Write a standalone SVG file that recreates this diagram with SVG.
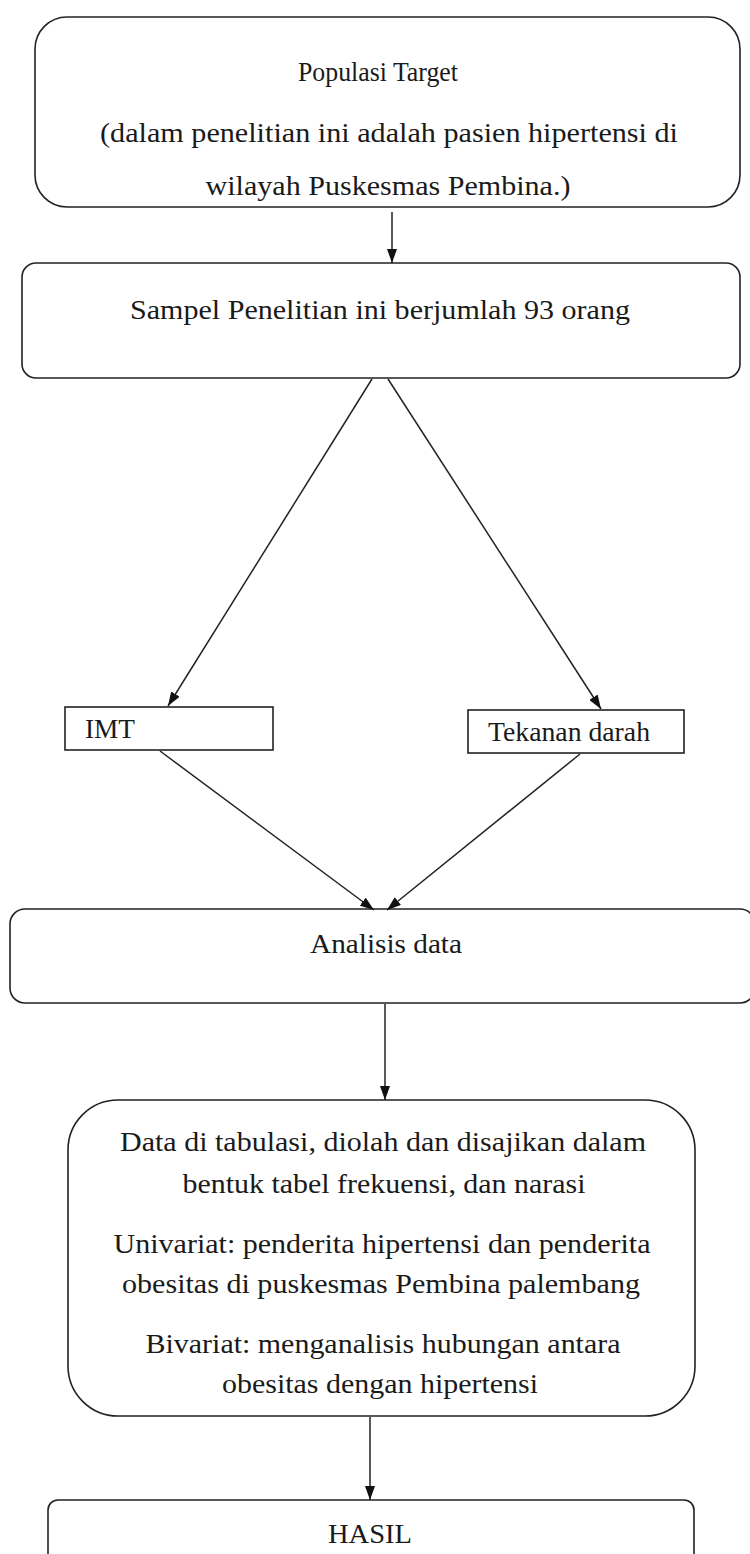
<svg xmlns="http://www.w3.org/2000/svg" width="750" height="1554" viewBox="0 0 750 1554">
<style>
.box{fill:#fff;stroke:#222;stroke-width:1.6}
.t{font-family:'Liberation Serif','Times New Roman',Times,serif;font-size:27px;fill:#1a1a1a;text-anchor:middle}
.c{stroke:#222;stroke-width:1.5;fill:none;marker-end:url(#ah)}
</style>
<defs>
<marker id="ah" viewBox="0 0 14 10" refX="14" refY="5" markerWidth="14" markerHeight="10" markerUnits="userSpaceOnUse" orient="auto">
<path d="M0,0 L14,5 L0,10 Z" fill="#111"/>
</marker>
</defs>
<rect width="750" height="1554" fill="#fff"/>
<g id="populasi">
<rect class="box" x="35" y="17" width="705" height="190" rx="32"/>
<text class="t" x="378" y="81" textLength="160" lengthAdjust="spacingAndGlyphs">Populasi Target</text>
<text class="t" x="389" y="142" textLength="578" lengthAdjust="spacingAndGlyphs">(dalam penelitian ini adalah pasien hipertensi di</text>
<text class="t" x="388" y="195" textLength="365" lengthAdjust="spacingAndGlyphs">wilayah Puskesmas Pembina.)</text>
</g>
<g id="sampel">
<rect class="box" x="22" y="263" width="718" height="115" rx="14"/>
<text class="t" x="380" y="319" textLength="500" lengthAdjust="spacingAndGlyphs">Sampel Penelitian ini berjumlah 93 orang</text>
</g>
<g id="imt">
<rect class="box" x="65" y="707" width="208" height="43"/>
<text class="t" x="110" y="738" textLength="50" lengthAdjust="spacingAndGlyphs">IMT</text>
</g>
<g id="tekanan">
<rect class="box" x="468" y="710" width="216" height="43"/>
<text class="t" x="569" y="741" textLength="162" lengthAdjust="spacingAndGlyphs">Tekanan darah</text>
</g>
<g id="analisis">
<rect class="box" x="10" y="909" width="745" height="94" rx="15"/>
<text class="t" x="386" y="953" textLength="152" lengthAdjust="spacingAndGlyphs">Analisis data</text>
</g>
<g id="data">
<rect class="box" x="68" y="1100" width="627" height="316" rx="50"/>
<text class="t" x="383" y="1151" textLength="526" lengthAdjust="spacingAndGlyphs">Data di tabulasi, diolah dan disajikan dalam</text>
<text class="t" x="384" y="1193" textLength="403" lengthAdjust="spacingAndGlyphs">bentuk tabel frekuensi, dan narasi</text>
<text class="t" x="382" y="1253" textLength="537" lengthAdjust="spacingAndGlyphs">Univariat: penderita hipertensi dan penderita</text>
<text class="t" x="381" y="1293" textLength="518" lengthAdjust="spacingAndGlyphs">obesitas di puskesmas Pembina palembang</text>
<text class="t" x="383" y="1353" textLength="475" lengthAdjust="spacingAndGlyphs">Bivariat: menganalisis hubungan antara</text>
<text class="t" x="380" y="1393" textLength="316" lengthAdjust="spacingAndGlyphs">obesitas dengan hipertensi</text>
</g>
<g id="hasil">
<rect class="box" x="48" y="1500" width="646" height="70" rx="10"/>
<text class="t" x="370" y="1543" textLength="84" lengthAdjust="spacingAndGlyphs">HASIL</text>
</g>
<g id="connectors">
<line class="c" x1="392" y1="212" x2="392" y2="263"/>
<line class="c" x1="372" y1="379" x2="168" y2="706"/>
<line class="c" x1="388" y1="379" x2="601" y2="709"/>
<line class="c" x1="160" y1="751" x2="374" y2="910"/>
<line class="c" x1="580" y1="754" x2="387" y2="910"/>
<line class="c" x1="385" y1="1004" x2="385" y2="1100"/>
<line class="c" x1="370" y1="1417" x2="370" y2="1500"/>
</g>
</svg>
